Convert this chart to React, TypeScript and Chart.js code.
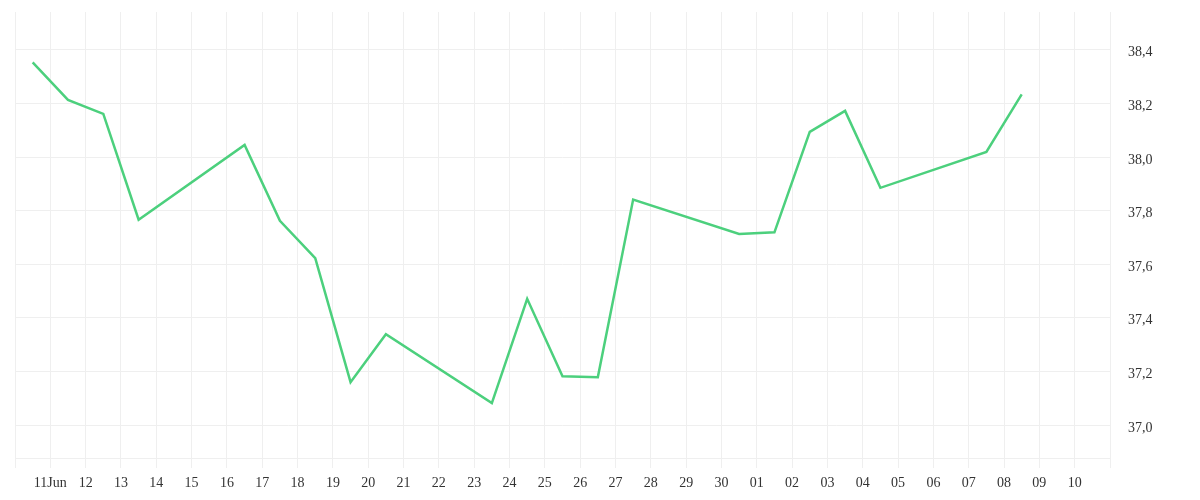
import React, { useEffect, useRef } from "react";
import { Chart, registerables } from "chart.js";

Chart.register(...registerables);

// Axis starts at this date (day index 0)
const axisStart = "2025-06-10";

// Trading days and closing values
const dates = [
  "2025-06-10", "2025-06-11", "2025-06-12", "2025-06-13",
  "2025-06-16", "2025-06-17", "2025-06-18", "2025-06-19", "2025-06-20",
  "2025-06-23", "2025-06-24", "2025-06-25", "2025-06-26", "2025-06-27",
  "2025-06-30", "2025-07-01", "2025-07-02", "2025-07-03", "2025-07-04",
  "2025-07-07", "2025-07-08",
];
const values = [
  38.353, 38.213, 38.161, 37.766,
  38.045, 37.762, 37.623, 37.160, 37.339,
  37.082, 37.471, 37.182, 37.178, 37.841,
  37.713, 37.719, 38.094, 38.172, 37.885,
  38.019, 38.234,
];

// One tick per day from Jun 10 (index 0) to Jul 11 (index 31)
const tickLabels = [
  "", "11Jun", "12", "13", "14", "15", "16", "17", "18", "19", "20",
  "21", "22", "23", "24", "25", "26", "27", "28", "29", "30",
  "01", "02", "03", "04", "05", "06", "07", "08", "09", "10", "",
];

const yTicks = [37.0, 37.2, 37.4, 37.6, 37.8, 38.0, 38.2, 38.4];
const yMin = 36.877;
const yMax = 38.541;

const DAY = 86400000;
const dayIndex = (d: string) =>
  (Date.parse(d + "T12:00:00Z") - Date.parse(axisStart + "T00:00:00Z")) / DAY;

export default function App() {
  const ref = useRef<HTMLCanvasElement | null>(null);

  useEffect(() => {
    if (!ref.current) return;
    const gridColor = "#efefef";
    const family = "'Liberation Serif', serif";
    const chart = new Chart(ref.current, {
      type: "line",
      data: {
        datasets: [
          {
            data: dates.map((d, i) => ({ x: dayIndex(d), y: values[i] })),
            borderColor: "#4cd07d",
            borderWidth: 2.5,
            pointRadius: 0,
            tension: 0,
            fill: false,
          },
        ],
      },
      options: {
        animation: false,
        responsive: true,
        maintainAspectRatio: false,
        layout: { padding: { left: 0, top: 4, right: 0, bottom: 0 } },
        plugins: { legend: { display: false }, tooltip: { enabled: false } },
        scales: {
          x: {
            type: "linear",
            min: 0,
            max: tickLabels.length - 1,
            afterBuildTicks: (scale: any) => {
              scale.ticks = tickLabels.map((_, i) => ({ value: i }));
            },
            afterFit: (scale: any) => {
              scale.height = 34;
            },
            ticks: {
              autoSkip: false,
              maxRotation: 0,
              padding: 7,
              color: "#333",
              font: { family, size: 14 },
              callback: (v: any) => tickLabels[Math.round(Number(v))] ?? "",
            },
            grid: { color: gridColor, tickLength: 10, lineWidth: 1 },
            border: { display: true, color: gridColor },
          },
          y: {
            type: "linear",
            position: "right",
            min: yMin,
            max: yMax,
            afterBuildTicks: (scale: any) => {
              scale.ticks = yTicks.map((v) => ({ value: v }));
            },
            afterFit: (scale: any) => {
              scale.width = 82;
            },
            ticks: {
              padding: 0,
              labelOffset: 3,
              color: "#333",
              font: { family, size: 14, lineHeight: 0.5 },
              callback: (v: any) => Number(v).toFixed(1).replace(".", ","),
            },
            grid: {
              color: gridColor,
              drawTicks: true,
              tickLength: 18,
              tickColor: "rgba(0,0,0,0)",
              lineWidth: 1,
            },
            border: { display: false },
          },
        },
      },
    });
    return () => chart.destroy();
  }, []);

  return (
    <div style={{ position: "relative", width: "100%", height: 484 }}>
      <canvas ref={ref} />
    </div>
  );
}
